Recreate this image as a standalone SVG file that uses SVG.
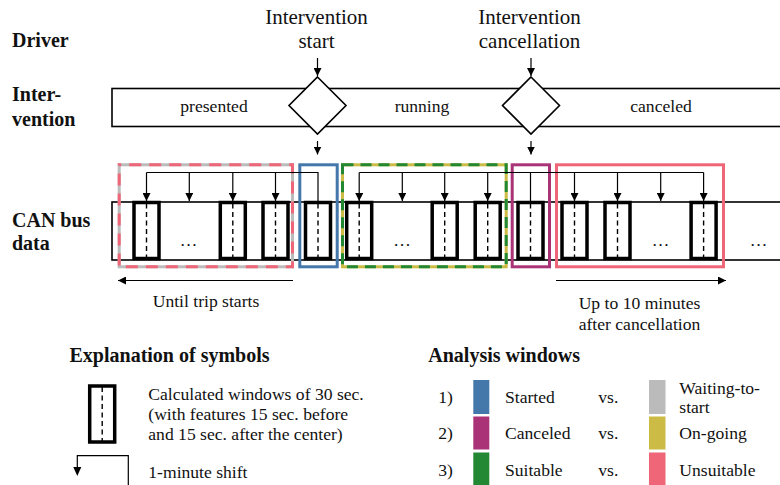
<svg xmlns="http://www.w3.org/2000/svg" width="780" height="485" viewBox="0 0 780 485">
  <style>
    text { font-family: "Liberation Serif", "Times New Roman", serif; fill: #111; }
    .lbl { font-size: 20px; font-weight: bold; }
    .head { font-size: 21px; text-anchor: middle; }
    .txt { font-size: 17.6px; }
    .mid { text-anchor: middle; }
    .bar { fill: none; stroke: #000; stroke-width: 1.6; }
    .dia { fill: #fff; stroke: #000; stroke-width: 1.6; }
    .win { fill: #fff; stroke: #000; stroke-width: 3.5; }
    .ctr { stroke: #000; stroke-width: 1.4; stroke-dasharray: 5 3.5; }
    .ln { fill: none; stroke: #000; stroke-width: 1.2; }
    .arr { fill: none; stroke: #000; stroke-width: 1.2; marker-end: url(#tip); }
    .box { fill: none; stroke-width: 3; }
  </style>
  <defs>
    <marker id="tip" viewBox="0 0 8 8" refX="8" refY="4" markerWidth="8" markerHeight="8" markerUnits="userSpaceOnUse" orient="auto">
      <path d="M0,0 L8,4 L0,8 z" fill="#000"/>
    </marker>
    <g id="window">
      <rect class="win" x="-12.5" y="0" width="25" height="56"/>
      <line class="ctr" x1="0" y1="1" x2="0" y2="55"/>
    </g>
  </defs>

  <!-- row labels -->
  <g id="row-labels">
    <text class="lbl" x="12" y="47">Driver</text>
    <text class="lbl" x="12" y="101">Inter-</text>
    <text class="lbl" x="12" y="126">vention</text>
    <text class="lbl" x="12" y="227">CAN bus</text>
    <text class="lbl" x="12" y="250">data</text>
  </g>

  <!-- event headings -->
  <g id="event-start">
    <text class="head" x="316.5" y="23.5">Intervention</text>
    <text class="head" x="316.5" y="48">start</text>
  </g>
  <g id="event-cancel">
    <text class="head" x="529.5" y="23.5">Intervention</text>
    <text class="head" x="529.5" y="48">cancellation</text>
  </g>

  <!-- intervention state bar -->
  <g id="intervention-bar">
    <rect class="bar" x="112" y="88.5" width="690" height="38"/>
    <text class="txt mid" x="214" y="112">presented</text>
    <text class="txt mid" x="422" y="112">running</text>
    <text class="txt mid" x="661" y="112">canceled</text>
  </g>
  <g id="decision-start">
    <polygon class="dia" points="317.5,77 346,105.5 317.5,134 289,105.5"/>
  </g>
  <g id="decision-cancel">
    <polygon class="dia" points="531,77 559.5,105.5 531,134 502.5,105.5"/>
  </g>

  <!-- CAN bus data bar -->
  <g id="can-bar">
    <rect class="bar" x="112" y="202" width="690" height="58"/>
    <text class="txt mid" x="188.5" y="246">…</text>
    <text class="txt mid" x="402" y="246">…</text>
    <text class="txt mid" x="660.5" y="246">…</text>
    <text class="txt mid" x="758.5" y="246">…</text>
  </g>

  <!-- analysis windows -->
  <g id="win-waiting">
    <rect class="box" x="119.2" y="164.8" width="173.3" height="102" stroke="#BBBBBB"/>
    <rect class="box" x="119.2" y="164.8" width="173.3" height="102" stroke="#EE6677" stroke-dasharray="12 8" stroke-dashoffset="-10"/>
  </g>
  <g id="win-started">
    <rect class="box" x="299.8" y="164.8" width="37.4" height="102" stroke="#4477AA"/>
  </g>
  <g id="win-ongoing">
    <rect class="box" x="342.5" y="164.8" width="163.7" height="102" stroke="#CCBB44"/>
    <rect class="box" x="342.5" y="164.8" width="163.7" height="102" stroke="#228833" stroke-dasharray="11 7"/>
  </g>
  <g id="win-canceled">
    <rect class="box" x="512.2" y="164.8" width="37.3" height="102" stroke="#AA3377"/>
  </g>
  <g id="win-unsuitable">
    <rect class="box" x="556.5" y="164.8" width="167" height="102" stroke="#EE6677"/>
  </g>

  <!-- 30-second windows -->
  <g id="windows">
    <use href="#window" x="146.5" y="202.5"/>
    <use href="#window" x="232.8" y="202.5"/>
    <use href="#window" x="275.5" y="202.5"/>
    <use href="#window" x="318" y="202.5"/>
    <use href="#window" x="359.2" y="202.5"/>
    <use href="#window" x="444.7" y="202.5"/>
    <use href="#window" x="487.7" y="202.5"/>
    <use href="#window" x="530.5" y="202.5"/>
    <use href="#window" x="574.5" y="202.5"/>
    <use href="#window" x="617.5" y="202.5"/>
    <use href="#window" x="703.6" y="202.5"/>
  </g>

  <!-- connectors -->
  <g id="connectors">
    <line class="arr" x1="317.5" y1="58" x2="317.5" y2="76"/>
    <line class="arr" x1="531" y1="58" x2="531" y2="76"/>
    <line class="arr" x1="317.5" y1="141" x2="317.5" y2="154.5"/>
    <line class="arr" x1="531" y1="141" x2="531" y2="154.5"/>

    <polyline class="ln" points="146.5,172.5 318,172.5 318,203"/>
    <line class="arr" x1="146.5" y1="172.5" x2="146.5" y2="201"/>
    <line class="arr" x1="189.3" y1="172.5" x2="189.3" y2="201"/>
    <line class="arr" x1="232.8" y1="172.5" x2="232.8" y2="201"/>
    <line class="arr" x1="275.5" y1="172.5" x2="275.5" y2="201"/>

    <line class="ln" x1="359.2" y1="172.5" x2="703.6" y2="172.5"/>
    <line class="ln" x1="530.5" y1="172.5" x2="530.5" y2="203"/>
    <line class="arr" x1="359.2" y1="172.5" x2="359.2" y2="201"/>
    <line class="arr" x1="402.3" y1="172.5" x2="402.3" y2="201"/>
    <line class="arr" x1="444.7" y1="172.5" x2="444.7" y2="201"/>
    <line class="arr" x1="487.7" y1="172.5" x2="487.7" y2="201"/>
    <line class="arr" x1="574.5" y1="172.5" x2="574.5" y2="201"/>
    <line class="arr" x1="617.5" y1="172.5" x2="617.5" y2="201"/>
    <line class="arr" x1="660.7" y1="172.5" x2="660.7" y2="201"/>
    <line class="arr" x1="703.6" y1="172.5" x2="703.6" y2="201"/>

    <line class="arr" x1="293" y1="280.5" x2="118" y2="280.5"/>
    <line class="arr" x1="556" y1="280.5" x2="726" y2="280.5"/>
  </g>

  <!-- range annotations -->
  <g id="range-before">
    <text class="txt mid" x="206" y="306.5">Until trip starts</text>
  </g>
  <g id="range-after">
    <text class="txt mid" x="639.5" y="309">Up to 10 minutes</text>
    <text class="txt mid" x="639.5" y="330">after cancellation</text>
  </g>

  <!-- symbol legend -->
  <g id="legend-symbols">
    <text class="lbl" x="69.5" y="362">Explanation of symbols</text>
    <use href="#window" x="102.2" y="386"/>
    <text class="txt" x="148.3" y="400">Calculated windows of 30 sec.</text>
    <text class="txt" x="148.3" y="420">(with features 15 sec. before</text>
    <text class="txt" x="148.3" y="440">and 15 sec. after the center)</text>
    <polyline class="ln" points="128.3,486 128.3,455.7 77.3,455.7 77.3,468"/>
    <path d="M73.3,467 L81.3,467 L77.3,476 z" fill="#000"/>
    <text class="txt" x="148.3" y="477.5">1-minute shift</text>
  </g>

  <!-- analysis window legend -->
  <g id="legend-windows">
    <text class="lbl" x="428.3" y="362">Analysis windows</text>
    <text class="txt" x="438.3" y="403.3">1)</text>
    <text class="txt" x="438.3" y="439.3">2)</text>
    <text class="txt" x="438.3" y="475.5">3)</text>
    <rect x="473.3" y="380" width="16" height="34" fill="#4477AA"/>
    <rect x="473.3" y="416.5" width="16" height="33" fill="#AA3377"/>
    <rect x="473.3" y="452.5" width="16" height="33" fill="#228833"/>
    <text class="txt" x="505" y="403.3">Started</text>
    <text class="txt" x="505" y="439.3">Canceled</text>
    <text class="txt" x="505" y="475.5">Suitable</text>
    <text class="txt" x="598.3" y="403.3">vs.</text>
    <text class="txt" x="598.3" y="439.3">vs.</text>
    <text class="txt" x="598.3" y="475.5">vs.</text>
    <rect x="649" y="380" width="16.5" height="34" fill="#BBBBBB"/>
    <rect x="649" y="416.5" width="16.5" height="33" fill="#CCBB44"/>
    <rect x="649" y="452.5" width="16.5" height="33" fill="#EE6677"/>
    <text class="txt" x="679.3" y="393.5">Waiting-to-</text>
    <text class="txt" x="679.3" y="412.7">start</text>
    <text class="txt" x="679.3" y="439.3">On-going</text>
    <text class="txt" x="679.3" y="475.5">Unsuitable</text>
  </g>
</svg>
